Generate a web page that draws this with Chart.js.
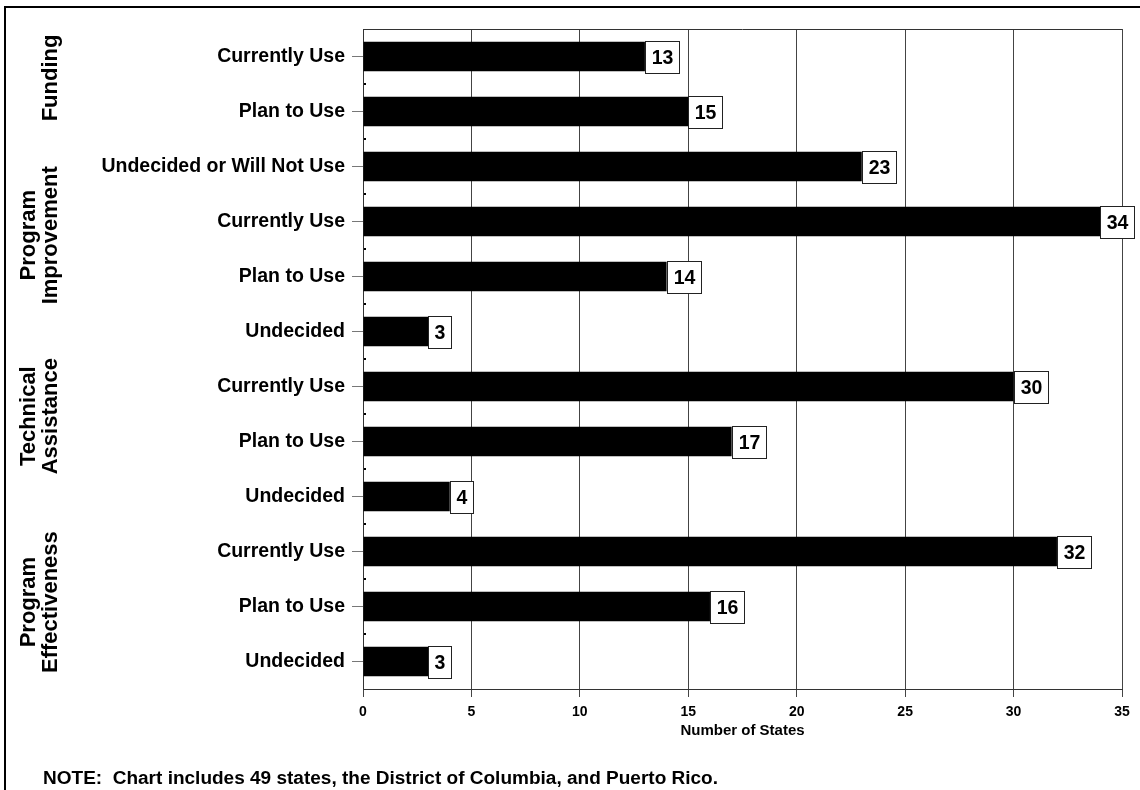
<!DOCTYPE html>
<html><head><meta charset="utf-8">
<script src="https://cdn.jsdelivr.net/npm/chart.js@4.4.1/dist/chart.umd.min.js"></script>
<style>html,body{margin:0;padding:0;background:#fff;} #wrap{width:1140px;height:790px;position:relative;}</style>
</head><body><div id="wrap"><canvas id="c" width="1140" height="790"></canvas></div>
<script>
// ---- data ----
const categories = ['Currently Use','Plan to Use','Undecided or Will Not Use','Currently Use','Plan to Use','Undecided','Currently Use','Plan to Use','Undecided','Currently Use','Plan to Use','Undecided'];
const values = [13, 15, 23, 34, 14, 3, 30, 17, 4, 32, 16, 3];
const xTicks = [0, 5, 10, 15, 20, 25, 30, 35];
const groupNames = [['Funding'], ['Program', 'Improvement'], ['Technical', 'Assistance'], ['Program', 'Effectiveness']];
const axisTitle = 'Number of States';
const noteText = 'NOTE:  Chart includes 49 states, the District of Columbia, and Puerto Rico.';

// ---- layout / style ----
const SANS = "'Liberation Sans', Arial, Helvetica, sans-serif";
const groupCenters = [0.39, 3.25, 6.54, 9.92];

const deco = {
  id: 'deco',
  beforeDraw(chart) {
    const ctx = chart.ctx;
    ctx.save(); ctx.fillStyle = '#fff'; ctx.fillRect(0, 0, chart.width, chart.height); ctx.restore();
  },
  afterDatasetsDraw(chart) {
    const ctx = chart.ctx;
    const meta = chart.getDatasetMeta(0);
    ctx.save();
    ctx.font = 'bold 19.5px ' + SANS;
    ctx.textAlign = 'center';
    ctx.textBaseline = 'middle';
    meta.data.forEach((el, i) => {
      const txt = String(values[i]);
      const tw = ctx.measureText(txt).width;
      const w = Math.round(tw + 12);
      const h = 32;
      const x0 = Math.round(el.x);
      const y0 = Math.round(el.y - h / 2);
      ctx.fillStyle = '#fff';
      ctx.fillRect(x0, y0, w, h);
      ctx.strokeStyle = '#222';
      ctx.lineWidth = 1;
      ctx.strokeRect(x0 + 0.5, y0 + 0.5, w, h);
      ctx.fillStyle = '#000';
      ctx.fillText(txt, x0 + w / 2 + 0.5, y0 + h / 2 + 1.5);
    });
    ctx.restore();
  },
  afterDraw(chart) {
    const ctx = chart.ctx;
    const {left, right, top} = chart.chartArea;
    const ys = chart.scales.y;
    ctx.save();
    // top frame line of plot
    ctx.strokeStyle = '#333'; ctx.lineWidth = 1;
    ctx.beginPath(); ctx.moveTo(left, top + 0.5); ctx.lineTo(right, top + 0.5); ctx.stroke();
    // small marks at category boundaries
    ctx.fillStyle = '#000';
    for (let i = 1; i < categories.length; i++) {
      const yy = Math.round(ys.getPixelForValue(i - 0.5));
      ctx.fillRect(left + 1, yy - 1, 2, 2);
    }
    // outer frame (left & top)
    ctx.strokeStyle = '#000'; ctx.lineWidth = 2;
    ctx.beginPath(); ctx.moveTo(5, 800); ctx.lineTo(5, 7); ctx.lineTo(1150, 7); ctx.stroke();
    // group labels (rotated)
    ctx.fillStyle = '#000';
    ctx.font = 'bold 22px ' + SANS;
    ctx.textAlign = 'center';
    ctx.textBaseline = 'alphabetic';
    groupNames.forEach((lines, g) => {
      const cy = ys.getPixelForValue(groupCenters[g]);
      ctx.save();
      ctx.translate(0, cy);
      ctx.rotate(-Math.PI / 2);
      const n = lines.length;
      lines.forEach((ln, k) => {
        const base = 57 - (n - 1 - k) * 22;
        ctx.fillText(ln, 0, base);
      });
      ctx.restore();
    });
    // note (slightly wide lettering as in the original)
    ctx.font = 'bold 18px ' + SANS;
    ctx.textAlign = 'left';
    const nw = ctx.measureText(noteText).width;
    ctx.translate(43, 784);
    ctx.scale(675 / nw, 1);
    ctx.fillText(noteText, 0, 0);
    ctx.restore();
  }
};

new Chart(document.getElementById('c'), {
  type: 'bar',
  data: {
    labels: categories,
    datasets: [{
      data: values,
      backgroundColor: '#000',
      borderWidth: 0,
      categoryPercentage: 1,
      barPercentage: 0.535
    }]
  },
  options: {
    indexAxis: 'y',
    responsive: false,
    animation: false,
    devicePixelRatio: 1,
    layout: { padding: { top: 29, right: 18, left: 0, bottom: 0 } },
    plugins: { legend: { display: false }, tooltip: { enabled: false } },
    scales: {
      x: {
        min: xTicks[0],
        max: xTicks[xTicks.length - 1],
        ticks: {
          stepSize: xTicks[1] - xTicks[0],
          color: '#000',
          font: { family: SANS, size: 14, weight: 'bold' },
          padding: 7,
          maxRotation: 0
        },
        grid: { color: '#444', lineWidth: 1, tickLength: 8, drawOnChartArea: true },
        border: { display: true, color: '#333' },
        title: {
          display: true,
          text: axisTitle,
          color: '#000',
          font: { family: SANS, size: 15, weight: 'bold' },
          padding: { top: 0, bottom: 50 }
        },
        afterFit(scale) { scale.height = 101; }
      },
      y: {
        offset: true,
        ticks: {
          color: '#000',
          font: { family: SANS, size: 19.5, weight: 'bold' },
          padding: 7,
          autoSkip: false
        },
        grid: { offset: false, drawOnChartArea: false, tickLength: 11, color: '#777' },
        border: { display: true, color: '#333' },
        afterFit(scale) { scale.width = 363; }
      }
    }
  },
  plugins: [deco]
});
</script>
</body></html>
